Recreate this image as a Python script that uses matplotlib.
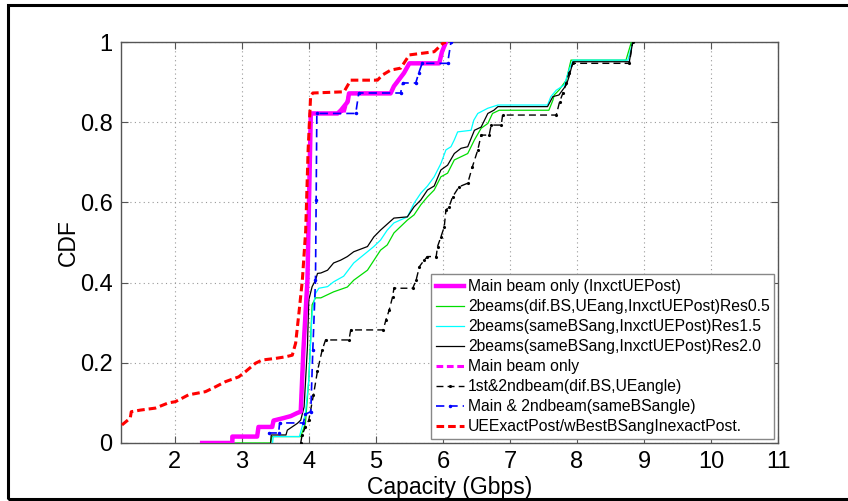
import matplotlib
matplotlib.use("Agg")
import matplotlib.pyplot as plt
from matplotlib.patches import Rectangle

plt.rcParams['font.family'] = ['Liberation Sans', 'DejaVu Sans']

# ---- empirical CDF curves: capacity (Gbps) vs CDF ----
main_inxct_x = [2.41, 2.86, 2.86, 3.23, 3.25, 3.455, 3.475, 3.62, 3.73, 3.83, 3.88, 3.92, 3.98, 4.01, 4.03,
                4.43, 4.48, 4.58, 4.60, 5.22, 5.27, 5.42, 5.50, 5.945, 5.985, 6.045]
main_inxct_y = [0.0, 0.0, 0.016, 0.016, 0.04, 0.04, 0.056, 0.062, 0.067, 0.075, 0.078, 0.232, 0.406, 0.656, 0.822,
                0.822, 0.83, 0.851, 0.872, 0.872, 0.89, 0.923, 0.947, 0.947, 0.975, 1.0]

res05_x = [2.86, 3.43, 3.45, 3.88, 3.95, 4.0, 4.05, 4.10, 4.18, 4.37, 4.575, 4.67, 4.875, 5.07, 5.17, 5.27, 5.47,
           5.57, 5.67, 5.77, 5.87, 5.97, 6.07, 6.17, 6.27, 6.37, 6.47, 6.57, 6.67, 6.74, 6.84, 7.58, 7.64, 7.66,
           7.73, 7.84, 7.91, 8.73, 8.81]
res05_y = [0.0, 0.0, 0.016, 0.016, 0.049, 0.157, 0.345, 0.362, 0.362, 0.377, 0.389, 0.406, 0.431, 0.481, 0.494,
           0.524, 0.556, 0.569, 0.594, 0.614, 0.631, 0.664, 0.673, 0.706, 0.714, 0.722, 0.756, 0.785, 0.797, 0.822,
           0.83, 0.83, 0.855, 0.868, 0.88, 0.905, 0.955, 0.955, 1.0]

res15_x = [3.46, 3.47, 3.86, 3.90, 3.95, 4.0, 4.05, 4.10, 4.15, 4.28, 4.37, 4.52, 4.67, 4.875, 4.97, 5.07, 5.17,
           5.27, 5.47, 5.57, 5.67, 5.77, 5.87, 5.97, 6.045, 6.12, 6.17, 6.22, 6.42, 6.46, 6.52, 6.67, 6.82, 7.56,
           7.61, 7.69, 7.81, 7.88, 7.94, 8.76, 8.83]
res15_y = [0.0, 0.016, 0.016, 0.04, 0.074, 0.157, 0.324, 0.373, 0.386, 0.39, 0.402, 0.416, 0.449, 0.477, 0.49,
           0.506, 0.531, 0.549, 0.564, 0.598, 0.623, 0.641, 0.664, 0.697, 0.731, 0.739, 0.756, 0.776, 0.78, 0.805,
           0.822, 0.835, 0.843, 0.843, 0.864, 0.88, 0.893, 0.93, 0.955, 0.955, 1.0]

res20_x = [3.43, 3.44, 3.66, 3.68, 3.83, 3.88, 3.93, 3.98, 4.0, 4.05, 4.10, 4.13, 4.18, 4.28, 4.37, 4.475, 4.575,
           4.67, 4.875, 4.97, 5.07, 5.27, 5.47, 5.57, 5.67, 5.77, 5.87, 5.97, 6.07, 6.17, 6.27, 6.37, 6.47, 6.57,
           6.67, 6.76, 6.82, 7.56, 7.64, 7.73, 7.84, 7.88, 7.94, 8.78, 8.83]
res20_y = [0.0, 0.02, 0.02, 0.032, 0.049, 0.057, 0.09, 0.24, 0.357, 0.39, 0.406, 0.423, 0.424, 0.431, 0.449,
           0.456, 0.465, 0.477, 0.49, 0.514, 0.531, 0.561, 0.564, 0.589, 0.606, 0.631, 0.641, 0.681, 0.693, 0.722,
           0.735, 0.739, 0.78, 0.788, 0.822, 0.83, 0.839, 0.839, 0.864, 0.868, 0.893, 0.913, 0.951, 0.951, 1.0]

main_only_x = [2.41, 2.86, 2.87, 3.23, 3.25, 3.45, 3.47, 3.62, 3.73, 3.83, 3.88, 3.92, 3.98, 4.01, 4.03,
               4.46, 4.50, 4.52, 4.56, 4.60, 5.22, 5.27, 5.42, 5.50, 5.95, 5.99, 6.05]
main_only_y = [0.0, 0.0, 0.016, 0.016, 0.04, 0.04, 0.056, 0.062, 0.067, 0.075, 0.078, 0.232, 0.406, 0.656, 0.822,
               0.822, 0.83, 0.82, 0.845, 0.872, 0.872, 0.89, 0.923, 0.947, 0.947, 0.975, 1.0]

first_second_x = [3.88, 3.90, 3.95, 4.0, 4.07, 4.13, 4.2, 4.25, 4.6, 4.625, 5.11, 5.15, 5.2, 5.25, 5.27, 5.55,
                  5.6, 5.65, 5.72, 5.77, 5.9, 5.92, 5.97, 6.02, 6.045, 6.09, 6.145, 6.24, 6.37, 6.44, 6.52, 6.57,
                  6.69, 6.72, 6.87, 6.89, 7.69, 7.74, 7.79, 7.84, 7.88, 7.94, 8.78, 8.83]
first_second_y = [0.0, 0.02, 0.04, 0.057, 0.12, 0.18, 0.232, 0.257, 0.257, 0.282, 0.282, 0.307, 0.332, 0.365,
                  0.386, 0.386, 0.406, 0.44, 0.456, 0.465, 0.465, 0.49, 0.514, 0.539, 0.581, 0.589, 0.614, 0.639,
                  0.648, 0.689, 0.731, 0.768, 0.768, 0.793, 0.793, 0.818, 0.818, 0.851, 0.873, 0.898, 0.923,
                  0.947, 0.947, 1.0]

main_second_x = [3.40, 3.55, 3.565, 3.92, 3.95, 4.03, 4.06, 4.10, 4.11, 4.12, 4.70, 4.745, 5.37, 5.40, 5.595,
                 5.64, 5.69, 6.07, 6.12]
main_second_y = [0.025, 0.025, 0.05, 0.05, 0.072, 0.078, 0.232, 0.406, 0.606, 0.822, 0.822, 0.873, 0.873, 0.898,
                 0.898, 0.923, 0.947, 0.947, 1.0]

ue_exact_x = [1.214, 1.338, 1.353, 1.488, 1.712, 1.906, 2.01, 2.115, 2.205, 2.459, 2.608, 2.758, 2.956, 3.056,
              3.206, 3.306, 3.505, 3.655, 3.754, 3.804, 3.853, 3.904, 3.954, 3.99, 4.027, 4.06, 4.525, 4.625,
              5.024, 5.10, 5.22, 5.37, 5.50, 5.87, 6.0, 6.045]
ue_exact_y = [0.045, 0.062, 0.078, 0.082, 0.087, 0.10, 0.103, 0.112, 0.12, 0.128, 0.14, 0.153, 0.165, 0.178,
              0.199, 0.207, 0.211, 0.215, 0.219, 0.249, 0.324, 0.406, 0.53, 0.73, 0.864, 0.873, 0.876, 0.905,
              0.905, 0.918, 0.93, 0.935, 0.968, 0.976, 0.997, 1.0]

labels = [
    "Main beam only (InxctUEPost)",
    "2beams(dif.BS,UEang,InxctUEPost)Res0.5",
    "2beams(sameBSang,InxctUEPost)Res1.5",
    "2beams(sameBSang,InxctUEPost)Res2.0",
    "Main beam only",
    "1st&2ndbeam(dif.BS,UEangle)",
    "Main & 2ndbeam(sameBSangle)",
    "UEExactPost/wBestBSangInexactPost.",
]

x_ticks = [2, 3, 4, 5, 6, 7, 8, 9, 10, 11]
y_ticks = [0, 0.2, 0.4, 0.6, 0.8, 1.0]
y_tick_labels = ["0", "0.2", "0.4", "0.6", "0.8", "1"]

fig = plt.figure(figsize=(8.48, 5.01), dpi=100)
ax = fig.add_axes([0.1427, 0.1158, 0.775, 0.8002])

ax.plot(main_inxct_x, main_inxct_y, color="#ff00ff", lw=3.2, label=labels[0], zorder=5)
ax.plot(res05_x, res05_y, color="#00dd00", lw=0.9, label=labels[1], zorder=3)
ax.plot(res15_x, res15_y, color="#00ffff", lw=0.9, label=labels[2], zorder=3)
ax.plot(res20_x, res20_y, color="black", lw=0.9, label=labels[3], zorder=4)
ax.plot(main_only_x, main_only_y, color="#ff00ff", lw=2.2, ls=(0, (2.2, 1.2)), label=labels[4], zorder=5)
ax.plot(first_second_x, first_second_y, color="black", lw=1.0, ls=(0, (5, 3)),
        marker=".", ms=2.5, label=labels[5], zorder=4)
ax.plot(main_second_x, main_second_y, color="#0000ff", lw=1.2, ls=(0, (5, 3)),
        marker=".", ms=3, label=labels[6], zorder=6)
ax.plot(ue_exact_x, ue_exact_y, color="#ff0000", lw=2.2, ls=(0, (2.5, 1.3)), label=labels[7], zorder=6)

ax.set_xlim(1.2, 11)
ax.set_ylim(0, 1)
ax.set_xticks(x_ticks)
ax.set_yticks(y_ticks)
ax.set_yticklabels(y_tick_labels)
ax.tick_params(direction="in", length=5, width=0.8, color="#555555", labelsize=17,
               top=True, right=True, pad=6)
ax.grid(True, ls=(0, (1, 3)), color="#999999", lw=0.8)
for s in ax.spines.values():
    s.set_color("#555555")
    s.set_linewidth(1.0)

ax.set_xlabel("Capacity (Gbps)", fontsize=16.5, labelpad=2)
ax.set_ylabel("CDF", fontsize=16.5, labelpad=0)

leg = ax.legend(loc="lower right", fontsize=11.3, frameon=True, fancybox=False,
                edgecolor="#888888", framealpha=1, borderaxespad=0.25,
                handlelength=1.8, handletextpad=0.25, labelspacing=0.32, borderpad=0.3)
leg.get_frame().set_linewidth(1.0)

# outer frame around the whole figure (right edge runs past the canvas)
fig.patches.append(Rectangle((0.0094, 0.004), 1.02, 0.986, transform=fig.transFigure,
                             fill=False, edgecolor="black", lw=2.2))

fig.savefig("out.png", dpi=100)
